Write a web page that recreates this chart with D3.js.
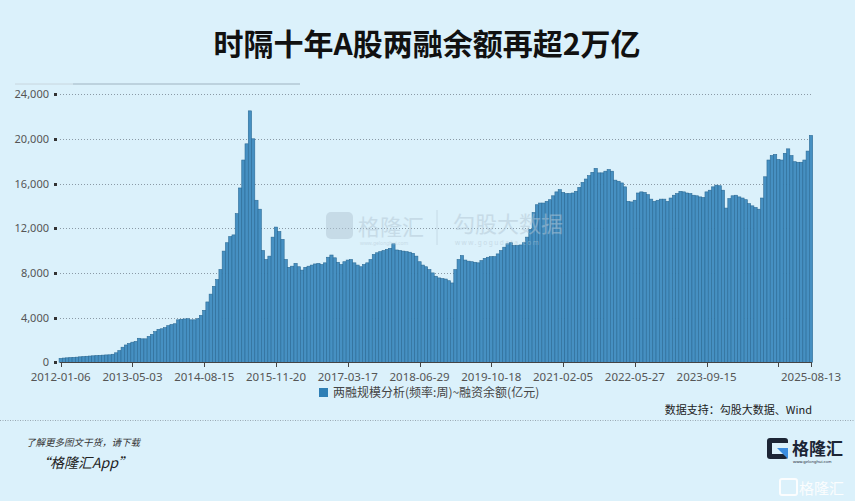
<!DOCTYPE html>
<html><head><meta charset="utf-8">
<script src="https://cdn.jsdelivr.net/npm/d3@7/dist/d3.min.js"></script>
<style>
html,body{margin:0;padding:0;background:#dbf1fb;}
svg{display:block;}
</style></head>
<body>
<svg id="chart" width="855" height="501"></svg>
<script>
// ---- data (亿元) ----
const title = "时隔十年A股两融余额再超2万亿";
const seriesName = "两融规模分析(频率:周)~融资余额(亿元)";
const tickLabels = ["2012-01-06","2013-05-03","2014-08-15","2015-11-20","2017-03-17","2018-06-29","2019-10-18","2021-02-05","2022-05-27","2023-09-15",""];
const lastLabel = "2025-08-13";
const yTicks = [0, 4000, 8000, 12000, 16000, 20000, 24000];
const values = [
 350,380,400,420,440,460,490,510,540,560,580,600,620,640,660,670,720,850,1050,1350,1550,1680,
 1800,1870,2150,2100,2100,2320,2500,2750,2950,3000,3100,3280,3380,3450,3800,3850,3880,3900,3800,3800,3900,4200,
 4650,5400,6100,6800,7400,8300,9950,10700,11250,11400,13300,15600,18100,19550,22500,20000,14500,13700,10000,9200,9500,11200,
 12100,11700,11000,9200,8500,8600,8850,8550,8250,8500,8600,8700,8800,8850,8750,8900,9400,9600,9350,8950,8750,9000,
 9150,9200,8900,8700,8550,8750,8900,9200,9650,9800,9900,10000,10100,10200,10600,10050,10000,9950,9900,9850,9750,9500,
 9000,8700,8550,8300,8000,7700,7550,7500,7450,7300,7100,8300,9200,9550,9150,9050,9000,8950,8900,9100,9300,9400,
 9450,9450,9700,10000,10300,10600,10700,10450,10450,10500,10700,11200,11900,13400,14100,14250,14250,14400,14550,14900,15250,15450,
 15200,15100,15100,15150,15300,15650,16100,16400,16700,17000,17350,16950,16950,17100,17250,17100,16300,16200,16050,15700,14400,14350,
 14500,15150,15250,15200,15000,14600,14400,14500,14600,14600,14400,14700,14950,15100,15300,15250,15150,15100,14950,14900,14800,14750,
 15250,15400,15700,15850,15800,15400,13800,14650,14900,14950,14800,14700,14550,14200,14000,13850,13700,14700,16600,18100,18500,18600,
 18150,18100,18700,19100,18500,17950,17900,17900,18100,18900,20300
];
const perTick = 22;

const svg = d3.select("#chart");
const W = 855, H = 501;
const font = "'Noto Sans','Noto Sans CJK SC',sans-serif";

svg.append("rect").attr("width", W).attr("height", H).attr("fill", "#dbf1fb");

// title
svg.append("text").attr("x", 427).attr("y", 55).attr("text-anchor", "middle")
  .attr("font-family", "'Noto Sans CJK SC',sans-serif").attr("font-weight", "bold")
  .attr("font-size", 30).attr("fill", "#111").text(title);

// thin line under title
svg.append("line").attr("x1", 15).attr("x2", 73).attr("y1", 84).attr("y2", 84)
  .attr("stroke", "#c8d6de").attr("stroke-width", 1);
svg.append("line").attr("x1", 73).attr("x2", 300).attr("y1", 84).attr("y2", 84)
  .attr("stroke", "#9fb3c0").attr("stroke-width", 1);

// scales
const idx = values.map((d, i) => i);
const step = (811 - 60.7) / (values.length - 1);
const x = d3.scaleBand().domain(idx).range([60.7 - step / 2, 811 + step / 2]).padding(0);
const y = d3.scaleLinear().domain([0, 24000]).range([362.3, 94.1]);

// gridlines
const g = svg.append("g");
g.selectAll("line.grid").data(yTicks.filter(d => d > 0)).join("line")
  .attr("x1", 60).attr("x2", 811)
  .attr("y1", d => Math.round(y(d)) + 0.5).attr("y2", d => Math.round(y(d)) + 0.5)
  .attr("stroke", "#8a9aa6").attr("stroke-width", 1).attr("stroke-dasharray", "1,2");

// y axis labels + square ticks
g.selectAll("text.yl").data(yTicks).join("text")
  .attr("x", 49).attr("y", d => y(d) + 4).attr("text-anchor", "end")
  .attr("font-family", font).attr("font-size", 11).attr("fill", "#555")
  .text(d => d3.format(",")(d));
g.selectAll("rect.ysq").data(yTicks).join("rect")
  .attr("x", 54).attr("y", d => Math.round(y(d)) - 1).attr("width", 3).attr("height", 3)
  .attr("fill", "#333");

// bars
svg.append("g").selectAll("rect").data(values).join("rect")
  .attr("x", (d, i) => x(i)).attr("width", x.bandwidth())
  .attr("y", d => y(d)).attr("height", d => y(0) - y(d))
  .attr("fill", "#4690c2").attr("stroke", "#2b6a95").attr("stroke-width", 0.6);

// watermark (semi-transparent, drawn over the bars)
const wm = svg.append("g").attr("opacity", 0.5);
const wmc = "#b3c6d4";
wm.append("rect").attr("x", 326).attr("y", 212).attr("width", 27).attr("height", 27).attr("rx", 5)
  .attr("fill", wmc);
wm.append("text").attr("x", 358).attr("y", 235).attr("font-family", "'Noto Sans CJK SC',sans-serif")
  .attr("font-size", 22).attr("fill", wmc).text("格隆汇");
wm.append("text").attr("x", 360).attr("y", 245).attr("font-family", font)
  .attr("font-size", 5).attr("fill", wmc).text("www.gelonghui.com");
wm.append("line").attr("x1", 437).attr("x2", 437).attr("y1", 210).attr("y2", 245)
  .attr("stroke", wmc);
wm.append("text").attr("x", 453).attr("y", 232).attr("font-family", "'Noto Sans CJK SC',sans-serif")
  .attr("font-size", 22).attr("fill", wmc).text("勾股大数据");
wm.append("text").attr("x", 455).attr("y", 245).attr("font-family", font)
  .attr("font-size", 6.5).attr("letter-spacing", 1.5).attr("fill", wmc).text("www.gogudata.com");

// x axis
const tickIdx = tickLabels.map((t, k) => k * perTick);
tickIdx.push(values.length - 1);
const allLabels = tickLabels.concat([lastLabel]);
svg.append("line").attr("x1", 60).attr("x2", 811.5).attr("y1", 362.5).attr("y2", 362.5)
  .attr("stroke", "#444").attr("stroke-width", 1);
svg.selectAll("line.xt").data(tickIdx).join("line")
  .attr("x1", d => Math.round(x(d) + x.bandwidth() / 2) + 0.5)
  .attr("x2", d => Math.round(x(d) + x.bandwidth() / 2) + 0.5)
  .attr("y1", 362).attr("y2", 367).attr("stroke", "#444");
svg.selectAll("text.xl").data(tickIdx).join("text")
  .attr("x", d => x(d) + x.bandwidth() / 2).attr("y", 381).attr("text-anchor", "middle")
  .attr("font-family", font).attr("font-size", 11.5).attr("fill", "#555")
  .text((d, i) => allLabels[i]);

// legend
svg.append("rect").attr("x", 319).attr("y", 388).attr("width", 9).attr("height", 9).attr("fill", "#2f7fb5");
svg.append("text").attr("x", 333).attr("y", 397).attr("font-family", "'Noto Sans CJK SC',sans-serif")
  .attr("font-size", 12).attr("fill", "#444").text(seriesName);

// source
svg.append("text").attr("x", 812).attr("y", 414).attr("text-anchor", "end")
  .attr("font-family", "'Noto Sans CJK SC',sans-serif").attr("font-size", 11).attr("fill", "#222")
  .text("数据支持：勾股大数据、Wind");

// separator
svg.append("line").attr("x1", 0).attr("x2", 855).attr("y1", 420.5).attr("y2", 420.5)
  .attr("stroke", "#9aa9b3").attr("stroke-dasharray", "1,1.5");

// footer
svg.append("text").attr("x", 26).attr("y", 446).attr("font-family", "'Noto Sans CJK SC',sans-serif")
  .attr("font-size", 9.5).attr("font-style", "italic").attr("fill", "#333").text("了解更多图文干货，请下载");
svg.append("text").attr("x", 36).attr("y", 468).attr("font-family", "'Noto Sans CJK SC',sans-serif")
  .attr("font-size", 14).attr("font-style", "italic").attr("fill", "#222").text("“格隆汇App”");

// logo bottom-right
const lg = svg.append("g");
lg.append("rect").attr("x", 767).attr("y", 438).attr("width", 21).attr("height", 21).attr("rx", 3).attr("fill", "#1c2535");
lg.append("rect").attr("x", 772).attr("y", 443).attr("width", 16).attr("height", 11).attr("fill", "#dbf1fb");
lg.append("path").attr("d", "M777,448 L788,448 L788,459 Z").attr("fill", "#3c8ee0");
lg.append("text").attr("x", 792).attr("y", 455).attr("font-family", "'Noto Sans CJK SC',sans-serif")
  .attr("font-weight", "bold").attr("font-size", 17).attr("fill", "#1c2535").text("格隆汇");
lg.append("text").attr("x", 793).attr("y", 463).attr("font-family", font)
  .attr("font-size", 4).attr("fill", "#1c2535").text("www.gelonghui.com");
const lg2 = svg.append("g").attr("opacity", 0.9);
lg2.append("rect").attr("x", 780).attr("y", 479).attr("width", 17).attr("height", 16).attr("rx", 2)
  .attr("fill", "none").attr("stroke", "#ffffff").attr("stroke-width", 2);
lg2.append("text").attr("x", 799).attr("y", 494).attr("font-family", "'Noto Sans CJK SC',sans-serif")
  .attr("font-size", 15).attr("fill", "#ffffff").text("格隆汇");
</script>
</body></html>
